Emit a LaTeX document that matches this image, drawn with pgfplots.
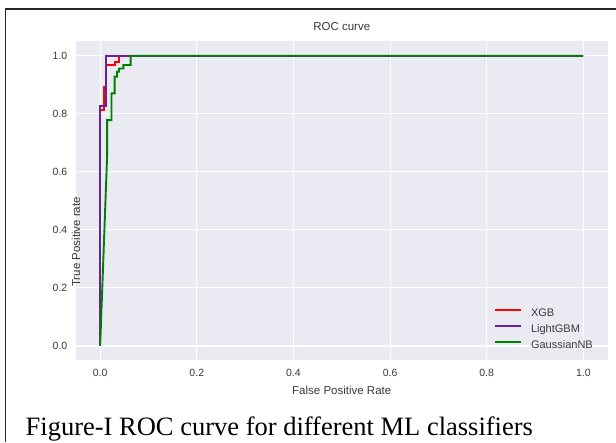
\documentclass[border=0pt]{standalone}
\usepackage{fontspec}
\setmainfont{Liberation Sans}
\newfontfamily\capfont{Liberation Serif}
\usepackage{pgfplots}
\pgfplotsset{compat=1.18}
\definecolor{bgc}{HTML}{EAEAF2}
\definecolor{xgb}{HTML}{FF0000}
\definecolor{lgbm}{RGB}{102,34,153}
\definecolor{gnb}{HTML}{008000}
\definecolor{tickc}{HTML}{3A3A3A}

\begin{document}
\begin{tikzpicture}
\useasboundingbox (0,0) rectangle (616pt,442pt);
\fill[white] (0,0) rectangle (616pt,442pt);
% frame of the pasted figure (right and bottom sides fall outside the crop)
\draw[black!85, line width=1.6pt] (5.5pt,0) -- (5.5pt,433pt) -- (616pt,433pt);
\begin{axis}[
    at={(76pt,81.5pt)}, anchor=south west,
    width=531.5pt, height=319.3pt, scale only axis,
    xmin=-0.05, xmax=1.05, ymin=-0.05, ymax=1.05,
    axis background/.style={fill=bgc},
    axis line style={draw=none},
    major tick length=0pt,
    xtick={0,0.2,0.4,0.6,0.8,1},
    ytick={0,0.2,0.4,0.6,0.8,1},
    grid=major, grid style={white, line width=1.1pt},
    /pgf/number format/fixed,
    /pgf/number format/fixed zerofill,
    /pgf/number format/precision=1,
    /pgf/number format/assume math mode=true,
    tick label style={font=\fontsize{10.5}{12}\selectfont, text=tickc, inner sep=0pt},
    xticklabel style={yshift=-8.5pt},
    yticklabel style={xshift=-8.5pt},
    title={ROC curve},
    title style={at={(rel axis cs:0.5,1)}, anchor=base, yshift=5pt, inner sep=0pt,
        font=\fontsize{11.5}{13}\selectfont, text=tickc},
    xlabel={False Positive Rate},
    xlabel style={at={(rel axis cs:0.5,0)}, anchor=north, yshift=-25pt, inner sep=0pt,
        font=\fontsize{11.5}{13}\selectfont, text=tickc},
    ylabel={True Positive rate},
    ylabel style={at={(rel axis cs:0,0.5)}, anchor=center, xshift=-41pt, inner sep=0pt,
        font=\fontsize{11.5}{13}\selectfont, text=tickc},
    legend style={at={(axis cs:0.815,0.131)}, anchor=north west, draw=none, fill=none,
        inner sep=0pt, row sep=5.5pt, column sep=9pt,
        font=\fontsize{11}{12}\selectfont, text=tickc,
        nodes={inner sep=0pt, text height=8pt, text depth=2.5pt}},
    legend cell align=left,
    legend image code/.code={\draw[#1] (0pt,3.8pt) -- (26pt,3.8pt);},
]
% XGB
\addplot[xgb, line width=1.9pt, line join=miter] coordinates {
    (0,0) (0,0.813) (0.008,0.813) (0.008,0.891) (0.013,0.891) (0.013,0.968)
    (0.030,0.968) (0.030,0.979) (0.039,0.979) (0.039,1) (1,1)
};
% LightGBM
\addplot[lgbm, line width=1.9pt, line join=miter] coordinates {
    (0,0) (0,0.827) (0.013,0.827) (0.013,1) (1,1)
};
% GaussianNB
\addplot[gnb, line width=1.9pt, line join=miter] coordinates {
    (0,0) (0.0145,0.66) (0.0145,0.778) (0.0235,0.778) (0.0235,0.870)
    (0.030,0.870) (0.030,0.928) (0.035,0.928) (0.035,0.945) (0.039,0.945)
    (0.039,0.956) (0.048,0.956) (0.048,0.968) (0.063,0.968) (0.063,1) (1,1)
};
\legend{XGB, LightGBM, GaussianNB}
\end{axis}
\node[anchor=base west, inner sep=0pt, font=\capfont\fontsize{26.5}{30}\selectfont]
    at (25.5pt,6pt) {Figure-I ROC curve for different ML classifiers};
\end{tikzpicture}
\end{document}
